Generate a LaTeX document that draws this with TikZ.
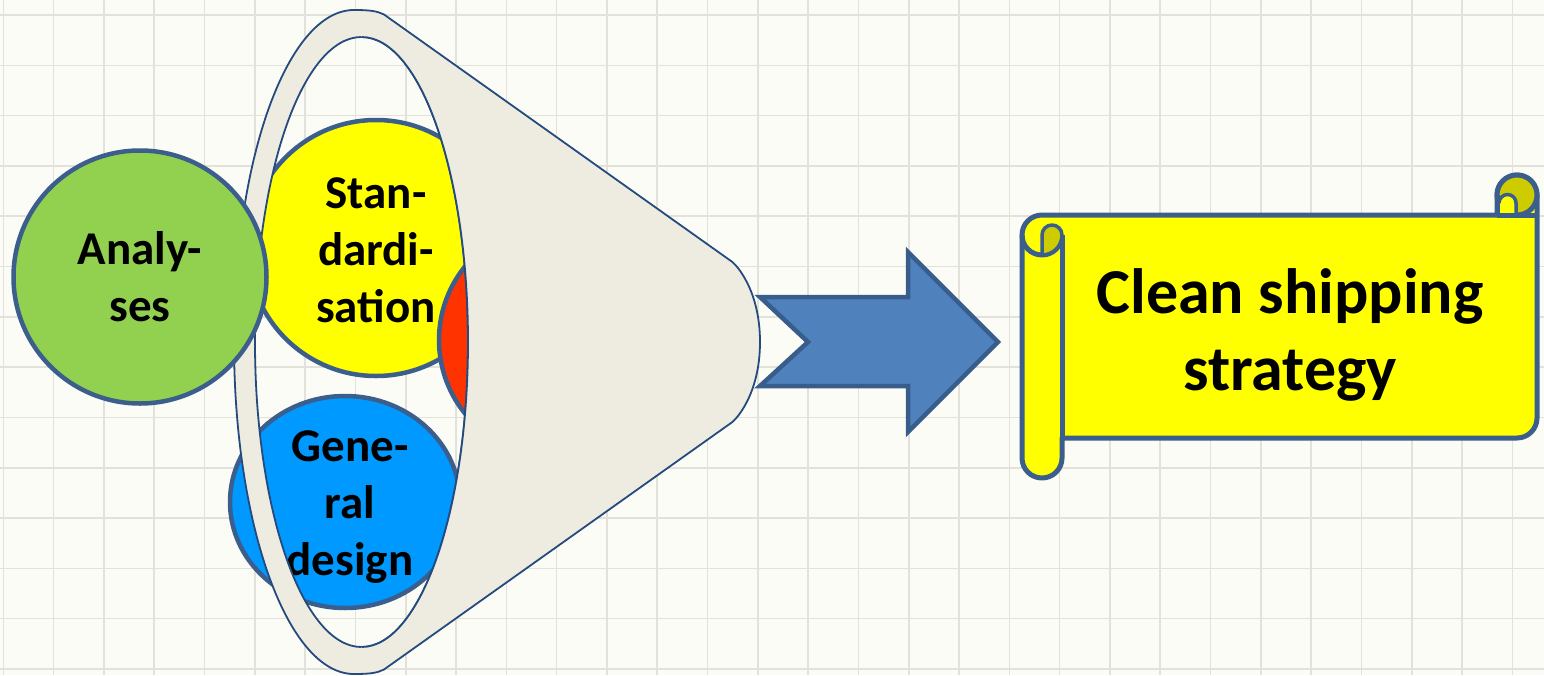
\documentclass[tikz,border=0pt]{standalone}
\usepackage{fontspec}
\setmainfont{Carlito}
\usetikzlibrary{shapes.geometric}
\definecolor{bgc}{HTML}{FCFCF7}
\definecolor{gridc}{HTML}{E2E2DA}
\definecolor{edgec}{HTML}{3B5E8C}
\definecolor{funline}{HTML}{254A7D}
\definecolor{funfill}{HTML}{EEECE1}
\definecolor{yel}{HTML}{FFFF00}
\definecolor{redc}{HTML}{FF3300}
\definecolor{bluec}{HTML}{0099FF}
\definecolor{greenc}{HTML}{92D050}
\definecolor{arrowc}{HTML}{4F81BD}
\definecolor{arrowedge}{HTML}{385D8A}
\definecolor{darkyel}{HTML}{CCCC00}
\begin{document}
\begin{tikzpicture}[x=1pt,y=1pt,yscale=-1,
  disc/.style={circle,draw=edgec,line width=4.5pt,inner sep=0pt},
  oval/.style={ellipse,draw=edgec,line width=4.5pt,inner sep=0pt},
  ctext/.style={font=\fontsize{47}{57}\selectfont\bfseries,align=center,inner sep=0pt,text=black},
  stext/.style={font=\fontsize{64}{77}\selectfont\bfseries,align=center,inner sep=0pt,text=black},
  funstroke/.style={draw=funline,line width=1.8pt},
  scrollline/.style={draw=edgec,line width=5pt,line join=round},
  gridline/.style={draw=gridc,line width=1.6pt}]
\useasboundingbox (0,0) rectangle (1544,675);
\fill[bgc] (0,0) rectangle (1544,675);
\foreach \i in {0,...,30} \draw[gridline] ({3.3+50.3*\i},0) -- ({3.3+50.3*\i},675);
\foreach \j in {0,...,13} \draw[gridline] (0,{15+50.3*\j}) -- (1544,{15+50.3*\j});

% circles behind the funnel
\node[disc,fill=yel,minimum size=256pt] (std) at (376,248) {};
\node[ctext] (stdtext) at (376,250) {Stan-\\dardi-\\sation};
\node[disc,fill=redc,minimum size=234pt] (red) at (556,340) {};
\node[oval,fill=bluec,minimum width=230pt,minimum height=212pt] (gen) at (345,502) {};
\node[ctext] (gentext) at (350,507) {Gene-\\ral\\design};

% funnel rim
\path[fill=funfill,even odd rule] (354,342) ellipse[x radius=120,y radius=332]
      (361.5,342) ellipse[x radius=106.5,y radius=305];
\draw[funstroke] (354,342) ellipse[x radius=120,y radius=332];
\draw[funstroke] (361.5,342) ellipse[x radius=106.5,y radius=305];
% funnel body
\fill[funfill] (361.5,37) -- (354,10) .. controls (370,10) and (377,11) .. (384,14.5)
  -- (731,261) .. controls (736,264) and (760,290) .. (760,342)
  .. controls (760,394) and (736,420) .. (731,423)
  -- (384,669.5) .. controls (377,673) and (370,674) .. (354,674)
  -- (361.5,647) arc[start angle=90,end angle=-90,x radius=106.5,y radius=305] -- cycle;
\draw[funstroke] (354,10) .. controls (370,10) and (377,11) .. (384,14.5)
  -- (731,261) .. controls (736,264) and (760,290) .. (760,342)
  .. controls (760,394) and (736,420) .. (731,423)
  -- (384,669.5) .. controls (377,673) and (370,674) .. (354,674);
\draw[funstroke] (361.5,647) arc[start angle=90,end angle=-90,x radius=106.5,y radius=305];

% green circle in front
\node[disc,fill=greenc,minimum size=253pt] (ana) at (140,277) {};
\node[ctext] (anatext) at (140,277) {Analy-\\ses};

% notched arrow
\draw[fill=arrowc,draw=arrowedge,line width=4.5pt,line join=miter]
  (760,297) -- (908,297) -- (908,252) -- (998,342) -- (908,432) -- (908,386)
  -- (760,386) -- (808,342) -- cycle;

% scroll
\path[fill=yel,scrollline] (1022,235) arc[start angle=180,end angle=270,radius=20]
  -- (1497,215) -- (1497,195) arc[start angle=180,end angle=360,radius=20]
  -- (1537,418) arc[start angle=0,end angle=90,radius=20]
  -- (1062,438) -- (1062,458) arc[start angle=0,end angle=180,radius=20] -- cycle;
\draw[scrollline] (1022,235) arc[start angle=180,end angle=0,radius=20];
\draw[scrollline] (1062,235) -- (1062,438);
\path[fill=darkyel,scrollline,line width=3.5pt] (1042,255) -- (1042,235)
  arc[start angle=180,end angle=360,radius=10]
  arc[start angle=0,end angle=90,radius=20] -- cycle;
\path[fill=darkyel,scrollline] (1517,195) circle[radius=20];
\path[fill=yel] (1499,215) -- (1499,203) arc[start angle=180,end angle=360,radius=8.5] -- (1516,215) -- cycle;
\draw[scrollline,line width=3.5pt] (1499,203) arc[start angle=180,end angle=360,radius=8.5] -- (1516,215);
\draw[scrollline] (1497,215) -- (1497,195);
\draw[scrollline] (1497,215) -- (1537,215);
\node[stext] (cs) at (1290,335) {Clean shipping\\strategy};
\end{tikzpicture}
\end{document}
